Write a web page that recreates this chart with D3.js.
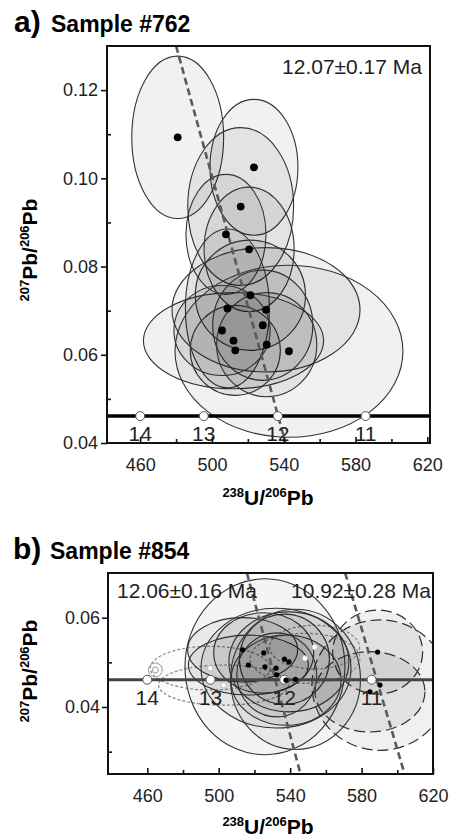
<!DOCTYPE html>
<html>
<head>
<meta charset="utf-8">
<script src="https://cdn.jsdelivr.net/npm/d3@7"></script>
<style>
  body { margin: 0; background: #fff; }
  svg { display: block; }
</style>
</head>
<body>
<svg id="chart"></svg>
<script>
// Concordia age markers (Ma) and their 238U/206Pb positions
const concordiaAges = [14, 13, 12, 11];
const concordiaX = [460.0, 495.4, 536.7, 585.6];
const concordiaY = 0.0461;

// Sample #762: ellipse centres and half-axes [x, y, sx, sy]
const ellA = [
  [480.9, 0.1093, 25.6, 0.0184],
  [523.4, 0.1025, 24.5, 0.0154],
  [516.0, 0.0936, 29.5, 0.0179],
  [507.8, 0.0873, 22.3, 0.0136],
  [520.7, 0.0839, 25.1, 0.0141],
  [521.4, 0.0735, 30.7, 0.0125],
  [508.6, 0.0705, 23.4, 0.0180],
  [530.1, 0.0702, 52.4, 0.0141],
  [528.3, 0.0667, 27.9, 0.0125],
  [505.6, 0.0655, 26.8, 0.0102],
  [512.0, 0.0632, 50.2, 0.0109],
  [513.0, 0.0610, 25.1, 0.0102],
  [530.5, 0.0623, 27.9, 0.0118],
  [542.9, 0.0608, 63.5, 0.0195]
];
const ageA = "12.07\u00b10.17 Ma";
const discA = [[480, 0.13], [541, 0.04]];

// Sample #854: main group (solid), excluded (dotted, open), young group (dashed)
const ellB = [
  [513.4, 0.0528, 30.8, 0.0072],
  [525.2, 0.0521, 28.0, 0.0090],
  [516.6, 0.0494, 33.6, 0.0067],
  [525.9, 0.0490, 44.8, 0.0197],
  [536.8, 0.0507, 25.2, 0.0101],
  [539.3, 0.0501, 33.6, 0.0112],
  [532.1, 0.0487, 42.0, 0.0134],
  [532.5, 0.0472, 22.4, 0.0094],
  [537.7, 0.0460, 30.8, 0.0101],
  [543.0, 0.0462, 36.4, 0.0157]
];
const openB = [
  [495.3, 0.0487, 33.6, 0.0049],
  [502.7, 0.0449, 36.4, 0.0045],
  [548.3, 0.0509, 30.8, 0.0056],
  [553.7, 0.0534, 25.2, 0.0049]
];
const ringB = [464.5, 0.0483, 3.9, 0.0016];
const youngB = [
  [589.0, 0.0523, 25.2, 0.0094],
  [590.3, 0.0449, 38.1, 0.0146],
  [584.7, 0.0434, 30.8, 0.0090]
];
const ageB1 = "12.06\u00b10.16 Ma";
const ageB2 = "10.92\u00b10.28 Ma";
const discB1 = [[515.8, 0.07], [545.8, 0.025]];
const discB2 = [[570.8, 0.07], [604.1, 0.025]];

const xMajor = [460, 500, 540, 580, 620];
const xMinor = [480, 520, 560, 600];

const font = "'Liberation Sans', Arial, Helvetica, sans-serif";
const W = 453, H = 837;

const svg = d3.select('#chart')
  .attr('width', W)
  .attr('height', H)
  .style('font-family', font);

function drawPanel(p) {
  const x = d3.scaleLinear().domain(p.xDomain).range([p.left, p.right]);
  const y = d3.scaleLinear().domain(p.yDomain).range([p.bottom, p.top]);
  const g = svg.append('g');

  const clipId = 'clip-' + p.id;
  g.append('clipPath').attr('id', clipId)
    .append('rect')
    .attr('x', p.left).attr('y', p.top)
    .attr('width', p.right - p.left).attr('height', p.bottom - p.top);

  const plot = g.append('g').attr('clip-path', `url(#${clipId})`);

  const ell = (sel, data, stroke, dash, fill, sw) => sel.selectAll(null)
    .data(data)
    .enter().append('ellipse')
    .attr('cx', d => x(d[0]))
    .attr('cy', d => y(d[1]))
    .attr('rx', d => x(d[0] + d[2]) - x(d[0]))
    .attr('ry', d => y(d[1]) - y(d[1] + d[3]))
    .attr('fill', fill)
    .attr('stroke', stroke)
    .attr('stroke-width', sw)
    .attr('stroke-dasharray', dash);

  // error ellipses
  if (p.young) ell(plot, p.young, '#333', '11,5', 'rgba(0,0,0,0.06)', 1.2);
  if (p.open) ell(plot, p.open, '#8c8c8c', '3,2', 'rgba(0,0,0,0.01)', 1.2);
  ell(plot, p.ellipses, '#333', null, `rgba(0,0,0,${p.fillOp})`, 1.1);

  // discordia lines
  p.disc.forEach(line => {
    plot.append('line')
      .attr('x1', x(line[0][0])).attr('y1', y(line[0][1]))
      .attr('x2', x(line[1][0])).attr('y2', y(line[1][1]))
      .attr('stroke', '#5a5a5a')
      .attr('stroke-width', 2.6)
      .attr('stroke-dasharray', '7,4');
  });

  // concordia
  plot.append('line')
    .attr('x1', p.left).attr('x2', p.right)
    .attr('y1', y(concordiaY)).attr('y2', y(concordiaY))
    .attr('stroke', p.concColor)
    .attr('stroke-width', p.concWidth);

  plot.selectAll(null)
    .data(concordiaX)
    .enter().append('circle')
    .attr('cx', d => x(d))
    .attr('cy', y(concordiaY))
    .attr('r', 4.5)
    .attr('fill', '#fff')
    .attr('stroke', '#555')
    .attr('stroke-width', 1);

  g.selectAll(null)
    .data(concordiaAges)
    .enter().append('text')
    .attr('x', (d, i) => x(concordiaX[i]))
    .attr('y', y(concordiaY) + 25)
    .attr('text-anchor', 'middle')
    .attr('font-size', 21)
    .attr('fill', '#222')
    .text(d => d);

  // points
  if (p.ring) {
    [7, 3].forEach(r => {
      plot.append('circle')
        .attr('cx', x(p.ring[0])).attr('cy', y(p.ring[1]))
        .attr('r', r).attr('fill', 'none')
        .attr('stroke', '#9a9a9a').attr('stroke-width', 1);
    });
  }
  if (p.open) {
    plot.selectAll(null)
      .data(p.open)
      .enter().append('circle')
      .attr('cx', d => x(d[0])).attr('cy', d => y(d[1]))
      .attr('r', 2.8).attr('fill', '#fff')
      .attr('stroke', '#aaa').attr('stroke-width', 0.8);
  }
  plot.selectAll(null)
    .data(p.ellipses.concat(p.young || []))
    .enter().append('circle')
    .attr('cx', d => x(d[0])).attr('cy', d => y(d[1]))
    .attr('r', p.dotR).attr('fill', '#000');

  // frame
  g.append('rect')
    .attr('x', p.left).attr('y', p.top)
    .attr('width', p.right - p.left).attr('height', p.bottom - p.top)
    .attr('fill', 'none').attr('stroke', '#111').attr('stroke-width', 2);

  // axes
  const xAxis = g.append('g')
    .attr('transform', `translate(0,${p.bottom})`)
    .call(d3.axisBottom(x).tickValues(xMajor).tickSize(-6).tickPadding(15));
  g.append('g')
    .attr('transform', `translate(0,${p.bottom})`)
    .call(d3.axisBottom(x).tickValues(xMinor).tickSize(-4).tickFormat(''));
  const yAxis = g.append('g')
    .attr('transform', `translate(${p.left},0)`)
    .call(d3.axisLeft(y).tickValues(p.yMajor).tickSize(6).tickPadding(p.yPad)
      .tickFormat(d3.format('.2f')));
  g.append('g')
    .attr('transform', `translate(${p.left},0)`)
    .call(d3.axisLeft(y).tickValues(p.yMinor).tickSize(-4).tickFormat(''));

  g.selectAll('.domain').remove();
  g.selectAll('.tick line').attr('stroke', '#111').attr('stroke-width', 1.6);
  [xAxis, yAxis].forEach(a => a.selectAll('text')
    .attr('font-size', 18)
    .attr('font-family', font)
    .attr('fill', '#222'));

  // age labels
  p.ages.forEach(a => {
    g.append('text')
      .attr('x', a.x).attr('y', a.y)
      .attr('text-anchor', a.anchor)
      .attr('font-size', 21)
      .attr('fill', '#222')
      .text(a.text);
  });

  // panel title
  g.append('text').attr('x', p.titleX).attr('y', p.titleY)
    .attr('font-size', 30).attr('font-weight', 'bold').text(p.letter);
  g.append('text').attr('x', p.titleX + 37).attr('y', p.titleY)
    .attr('font-size', 23).attr('font-weight', 'bold').text(p.title);

  // axis titles
  const xt = g.append('text')
    .attr('x', 268).attr('y', p.xTitleY)
    .attr('text-anchor', 'middle')
    .attr('font-weight', 'bold').attr('font-size', 21);
  xt.append('tspan').attr('font-size', 13).attr('dy', -8).text('238');
  xt.append('tspan').attr('dy', 8).text('U/');
  xt.append('tspan').attr('font-size', 13).attr('dy', -8).text('206');
  xt.append('tspan').attr('dy', 8).text('Pb');

  const yt = g.append('text')
    .attr('transform', `translate(37,${p.yTitleY}) rotate(-90)`)
    .attr('text-anchor', 'middle')
    .attr('font-weight', 'bold').attr('font-size', 21);
  yt.append('tspan').attr('font-size', 13).attr('dy', -8).text('207');
  yt.append('tspan').attr('dy', 8).text('Pb/');
  yt.append('tspan').attr('font-size', 13).attr('dy', -8).text('206');
  yt.append('tspan').attr('dy', 8).text('Pb');
}

drawPanel({
  id: 'a', letter: 'a)', title: 'Sample #762', titleX: 14, titleY: 32,
  xDomain: [441.5, 621.5], yDomain: [0.04, 0.13],
  left: 107, right: 430, top: 46, bottom: 443,
  yMajor: [0.04, 0.06, 0.08, 0.10, 0.12], yMinor: [0.05, 0.07, 0.09, 0.11], yPad: 3,
  ellipses: ellA, disc: [discA], dotR: 3.9, fillOp: 0.055,
  concColor: '#000', concWidth: 3.5,
  ages: [{ text: ageA, x: 422, y: 74, anchor: 'end' }],
  xTitleY: 505, yTitleY: 250
});

drawPanel({
  id: 'b', letter: 'b)', title: 'Sample #854', titleX: 13, titleY: 559,
  xDomain: [438, 620], yDomain: [0.025, 0.07],
  left: 108, right: 433, top: 573, bottom: 774,
  yMajor: [0.04, 0.06], yMinor: [0.03, 0.05], yPad: 2,
  ellipses: ellB, open: openB, ring: ringB, young: youngB,
  disc: [discB1, discB2], dotR: 2.6, fillOp: 0.045,
  concColor: '#444', concWidth: 3,
  ages: [
    { text: ageB1, x: 117, y: 598, anchor: 'start' },
    { text: ageB2, x: 431, y: 598, anchor: 'end' }
  ],
  xTitleY: 834, yTitleY: 671
});
</script>
</body>
</html>
